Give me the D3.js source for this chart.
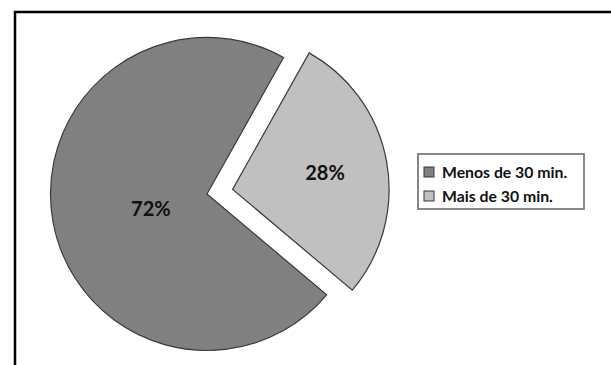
<!DOCTYPE html>
<html>
<head>
<meta charset="utf-8">
<script src="https://cdn.jsdelivr.net/npm/d3@7"></script>
<style>
  body { margin: 0; background: #fff; }
  text { font-family: Lato, "Open Sans", sans-serif; font-weight: bold; }
</style>
</head>
<body>
<div id="chart-container"></div>
<script>
const width = 611;
const height = 365;

// Chart data
const categories = ["Menos de 30 min.", "Mais de 30 min."];
const values = [72, 28];
const labels = ["72%", "28%"];
const colors = ["#808080", "#c0c0c0"];

const center = {x: 207, y: 194};
const radius = 156.5;
const explode = [0, 26];   // only the small slice is pulled out
const startDeg = 130.1;

var svg = d3.select("#chart-container")
    .append("svg")
    .attr("width", width)
    .attr("height", height);

// Outer frame (runs off the bottom/right of the picture)
svg.append("rect")
    .attr("x", 15)
    .attr("y", 12)
    .attr("width", width + 20)
    .attr("height", height + 20)
    .attr("fill", "#fff")
    .attr("stroke", "#000")
    .attr("stroke-width", 2.5);

var pie = d3.pie()
    .sort(null)
    .value(d => d)
    .startAngle(startDeg * Math.PI / 180)
    .endAngle((startDeg + 360) * Math.PI / 180);

var arc = d3.arc()
    .innerRadius(0)
    .outerRadius(radius);

var arcs = pie(values);

var slices = svg.append("g")
    .attr("transform", `translate(${center.x}, ${center.y})`)
    .selectAll("g")
    .data(arcs)
    .enter()
    .append("g")
    .attr("transform", function (d, i) {
        var mid = (d.startAngle + d.endAngle) / 2;
        return `translate(${Math.sin(mid) * explode[i]}, ${-Math.cos(mid) * explode[i]})`;
    });

slices.append("path")
    .attr("d", arc)
    .attr("fill", (d, i) => colors[i])
    .attr("stroke", "#3a3a3a")
    .attr("stroke-width", 1.2)
    .attr("stroke-linejoin", "miter");

// Percentage labels
const labelRadius = [57, 94];
slices.append("text")
    .attr("transform", function (d, i) {
        var c = d3.arc().innerRadius(labelRadius[i]).outerRadius(labelRadius[i]).centroid(d);
        return `translate(${c[0]}, ${c[1] + (i === 0 ? 5 : 0)})`;
    })
    .attr("text-anchor", "middle")
    .attr("dy", "0.36em")
    .style("font-size", "20px")
    .attr("fill", "#111")
    .text((d, i) => labels[i]);

// Legend
var legend = svg.append("g")
    .attr("transform", "translate(418, 154)");

legend.append("rect")
    .attr("width", 166)
    .attr("height", 55)
    .attr("fill", "#fff")
    .attr("stroke", "#7a7a7a")
    .attr("stroke-width", 1.8);

var items = legend.selectAll(".item")
    .data(categories)
    .enter()
    .append("g")
    .attr("class", "item")
    .attr("transform", (d, i) => `translate(6, ${13 + i * 24})`);

items.append("rect")
    .attr("width", 10)
    .attr("height", 10)
    .attr("fill", (d, i) => colors[i])
    .attr("stroke", "#3a3a3a")
    .attr("stroke-width", 1);

items.append("text")
    .attr("x", 18)
    .attr("y", 11)
    .style("font-size", "15.8px")
    .attr("fill", "#111")
    .text(d => d);
</script>
</body>
</html>
